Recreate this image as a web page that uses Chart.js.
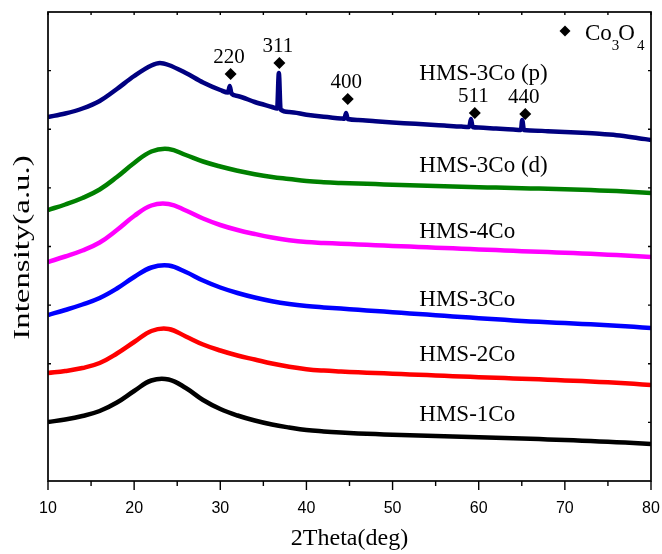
<!DOCTYPE html>
<html>
<head>
<meta charset="utf-8">
<script src="https://cdn.jsdelivr.net/npm/chart.js@4/dist/chart.umd.min.js"></script>
<style>
  html, body { margin: 0; padding: 0; background: #fff; }
</style>
</head>
<body>
<canvas id="xrd" width="662" height="554"></canvas>
<script>
// 2θ positions (deg) shared by the five amorphous-only patterns
const angles = [10, 12, 14, 16, 18, 20, 22, 24, 26, 28, 30, 32, 34, 36, 38, 40, 42, 44,
                46, 48, 50, 52, 54, 56, 58, 60, 62, 64, 66, 68, 70, 72, 74, 76, 78, 80];

// Offset intensities (a.u.) of each stacked pattern
const hms1Co  = [59, 61.5, 65, 70, 78.5, 90, 100.5, 101.5, 93, 81, 72, 65.5, 60.5, 56.5, 53.5, 51, 49.6, 48.5,
                 47.6, 46.9, 46.3, 45.8, 45.3, 44.8, 44.3, 43.8, 43.3, 42.8, 42.2, 41.6, 41, 40.3, 39.6, 38.8, 38, 37];
const hms2Co  = [108, 110, 113, 118, 127.5, 139, 150, 152, 144.5, 136.5, 130.5, 125.5, 121.5, 117.5, 114.2, 111.8, 110.4, 109.5,
                 108.7, 108, 107.3, 106.6, 105.9, 105.2, 104.5, 103.8, 103.2, 102.6, 102, 101.3, 100.6, 99.9, 99.1, 98.2, 97.2, 96];
const hms3Co  = [166, 171, 176.5, 183, 192.5, 204, 213.5, 215.5, 209, 200.5, 193.5, 188, 183.5, 179.8, 177, 175, 173.6, 172.4,
                 171.2, 170, 168.8, 167.6, 166.4, 165.2, 164, 162.8, 161.7, 160.6, 159.6, 158.7, 157.9, 157.1, 156.3, 155.3, 154.2, 153];
const hms4Co  = [219, 224.5, 230.5, 238.5, 251, 265, 275.5, 277, 270.5, 262.5, 256, 251, 247, 243.5, 240.8, 239, 238.1, 237.3,
                 236.5, 235.8, 235.1, 234.4, 233.7, 233, 232.3, 231.6, 230.9, 230.2, 229.5, 228.9, 228.3, 227.6, 226.8, 225.9, 225, 224];
const hms3CoD = [271, 276.5, 283, 291.5, 304, 318, 329.5, 332, 326, 319.5, 314.5, 310.3, 306.8, 304, 302, 300, 298.8, 298,
                 297.4, 296.9, 296.3, 295.8, 295.3, 294.8, 294.3, 293.8, 293.4, 293, 292.6, 292.2, 291.7, 291.2, 290.6, 289.9, 289, 288];

// HMS-3Co (p) also carries the Co3O4 reflections, so it has extra samples around them
const anglesP = [10, 12, 14, 16, 18, 20, 22, 23, 24, 26, 28, 30, 30.9, 31.1, 31.3, 32, 34, 36, 36.6, 36.8, 37.0,
                 38, 40, 42, 44, 44.4, 44.6, 44.8, 46, 48, 50, 52, 54, 56, 58, 58.9, 59.1, 59.3, 60,
                 62, 64, 64.9, 65.05, 65.25, 66, 68, 70, 72, 74, 76, 78, 80];
const hms3CoP = [364, 367.5, 372.5, 380, 392, 405, 415.5, 418, 416, 408, 398.5, 391, 388.5, 395, 387.5, 385, 379, 374, 372.5, 408, 371.5,
                 369, 366.3, 364.2, 362.6, 362.2, 368, 362, 361.1, 359.8, 358.6, 357.5, 356.4, 355.4, 354.4, 354.1, 362, 354, 353.4,
                 352.4, 351.5, 351.1, 361, 351, 350.6, 349.8, 349, 348.2, 347.2, 345.8, 343.6, 341];

// Co3O4 reflections: 2θ, marker height (a.u.) and Miller indices
const peakAngles  = [31.2, 36.86, 44.8, 59.55, 65.4];
const peakHeights = [407, 418, 382, 368, 367];
const peakLabels  = ['220', '311', '400', '511', '440'];

const seriesNames  = ['HMS-1Co', 'HMS-2Co', 'HMS-3Co', 'HMS-4Co', 'HMS-3Co (d)', 'HMS-3Co (p)'];
const seriesColors = ['#000000', '#ff0000', '#0000ff', '#ff00ff', '#008000', '#000080'];
const xTicks = [10, 20, 30, 40, 50, 60, 70, 80];

const Y_MAX = 469;
const SERIF = '"Liberation Serif", "Times New Roman", serif';
const SANS = '"Liberation Sans", Arial, sans-serif';

const pts = (xs, ys) => xs.map((x, i) => ({ x, y: ys[i] }));
const seriesData = [
  pts(angles, hms1Co), pts(angles, hms2Co), pts(angles, hms3Co),
  pts(angles, hms4Co), pts(angles, hms3CoD), pts(anglesP, hms3CoP)
];

const datasets = seriesData.map((data, i) => {
  const sharp = i === 5;
  return {
    type: 'line',
    label: seriesNames[i],
    data,
    borderColor: seriesColors[i],
    borderWidth: 4.5,
    pointRadius: 0,
    tension: 0.4,
    cubicInterpolationMode: sharp ? 'monotone' : 'default',
    fill: false
  };
});

datasets.push({
  type: 'scatter',
  label: 'Co3O4',
  data: pts(peakAngles, peakHeights),
  pointStyle: 'rectRot',
  pointRadius: 6,
  backgroundColor: '#000',
  borderColor: '#000',
  borderWidth: 0,
  showLine: false
});

// Box frame with inward/outward tick marks
const framePlugin = {
  id: 'frame',
  afterDraw(chart) {
    const { ctx, chartArea: a, scales: { x, y } } = chart;
    ctx.save();
    ctx.strokeStyle = '#000';
    ctx.lineWidth = 1.7;
    ctx.strokeRect(a.left, a.top, a.right - a.left, a.bottom - a.top);
    ctx.lineWidth = 1.4;
    ctx.beginPath();
    for (let v = 10; v <= 80; v += 5) {
      const px = x.getPixelForValue(v);
      const major = v % 10 === 0;
      ctx.moveTo(px, a.bottom);
      ctx.lineTo(px, a.bottom + (major ? 9 : 5));
      ctx.moveTo(px, a.top);
      ctx.lineTo(px, a.top + 3);
    }
    for (let i = 1; i < 8; i++) {
      const py = y.getPixelForValue(Y_MAX * i / 8);
      ctx.moveTo(a.left, py);
      ctx.lineTo(a.left + 3, py);
      ctx.moveTo(a.right, py);
      ctx.lineTo(a.right - 3, py);
    }
    ctx.stroke();
    ctx.restore();
  }
};

// Series names, reflection indices, legend and axis titles
const textPlugin = {
  id: 'texts',
  afterDraw(chart, args, opts) {
    const { ctx, chartArea: a, scales: { x, y } } = chart;
    ctx.save();
    ctx.fillStyle = '#000';
    ctx.textBaseline = 'alphabetic';

    // pattern names
    ctx.font = `23px ${SERIF}`;
    ctx.textAlign = 'left';
    seriesNames.forEach((name, i) => {
      ctx.fillText(name, x.getPixelForValue(opts.nameAngle), y.getPixelForValue(opts.nameLevels[i]));
    });

    // Miller indices above the diamond markers
    ctx.font = `21px ${SERIF}`;
    ctx.textAlign = 'center';
    peakLabels.forEach((lab, i) => {
      ctx.fillText(lab, x.getPixelForValue(peakAngles[i]) - 1.5, y.getPixelForValue(peakHeights[i]) - 11.5);
    });

    // legend: diamond + Co3O4
    const lx = 565, ly = 31, r = 5.5;
    ctx.beginPath();
    ctx.moveTo(lx, ly - r); ctx.lineTo(lx + r, ly); ctx.lineTo(lx, ly + r); ctx.lineTo(lx - r, ly);
    ctx.closePath();
    ctx.fill();
    ctx.textAlign = 'left';
    let tx = 585;
    const parts = [['Co', 23, 40], ['3', 15, 50], ['O', 23, 40], ['4', 15, 50]];
    parts.forEach(([s, size, base], k) => {
      ctx.font = `${size}px ${SERIF}`;
      ctx.fillText(s, tx, base);
      tx += ctx.measureText(s).width + (k === 1 ? -1 : (k === 2 ? 2 : 0));
    });

    // x-axis title
    ctx.font = `24px ${SERIF}`;
    ctx.textAlign = 'center';
    ctx.fillText('2Theta(deg)', (a.left + a.right) / 2, 545);

    // y-axis title (stretched along its length)
    ctx.translate(28.7, 247.5);
    ctx.rotate(-Math.PI / 2);
    ctx.scale(1.37, 1);
    ctx.fillText('Intensity(a.u.)', 0, 0);
    ctx.restore();
  }
};

new Chart(document.getElementById('xrd'), {
  data: { datasets },
  options: {
    responsive: false,
    animation: false,
    layout: { padding: { top: 12, right: 11, left: 0, bottom: 0 } },
    plugins: {
      legend: { display: false },
      tooltip: { enabled: false },
      texts: {
        nameAngle: 53.1,
        nameLevels: [60.5, 120.5, 175.5, 242.7, 309, 401]
      }
    },
    scales: {
      x: {
        type: 'linear',
        min: 10,
        max: 80,
        afterFit: s => { s.height = 73; s.paddingLeft = 0; s.paddingRight = 0; },
        afterBuildTicks: s => { s.ticks = xTicks.map(v => ({ value: v })); },
        grid: { display: false },
        border: { display: false },
        ticks: {
          padding: 10,
          color: '#000',
          font: { family: SANS, size: 16 },
          maxRotation: 0
        }
      },
      y: {
        type: 'linear',
        min: 0,
        max: Y_MAX,
        afterFit: s => { s.width = 48; },
        grid: { display: false },
        border: { display: false },
        ticks: { display: false }
      }
    }
  },
  plugins: [framePlugin, textPlugin]
});
</script>
</body>
</html>
